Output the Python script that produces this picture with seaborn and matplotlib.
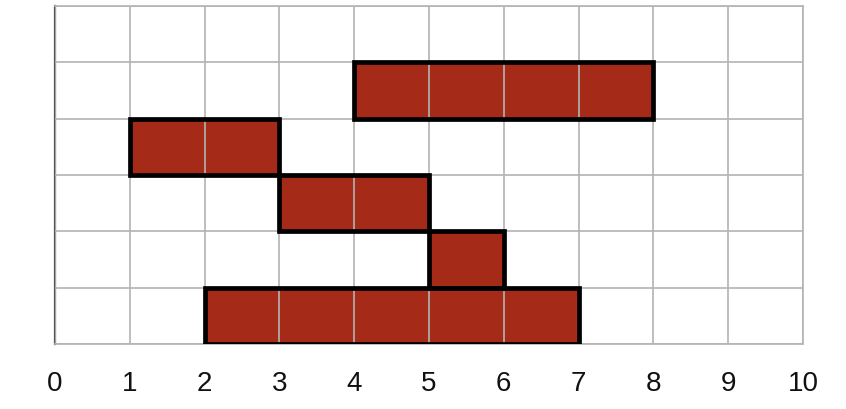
import matplotlib
matplotlib.use("Agg")
import matplotlib.pyplot as plt
import seaborn as sns
import numpy as np

rows = [4, 3, 2, 1, 0]          # row index (0 = bottom row)
starts = [4, 1, 3, 5, 2]
ends = [8, 3, 5, 6, 7]
xticks = list(range(0, 11))
n_rows = 6

sns.set_theme(style="white")
plt.rcParams['font.family'] = ['Liberation Sans', 'DejaVu Sans']

fig = plt.figure(figsize=(8.46, 4.10), dpi=100)
ax = fig.add_axes([55/846, 1-345/410, (803-55)/846, (345-7)/410])

widths = [e - s for s, e in zip(starts, ends)]
ax.barh(rows, widths, left=starts, height=1.0, align='edge',
        color='#a52a18', edgecolor='none', zorder=1)
ax.barh(rows, widths, left=starts, height=1.0, align='edge',
        facecolor='none', edgecolor='black', linewidth=3.4, zorder=3)

ax.set_xlim(0, 10)
ax.set_ylim(0, n_rows)
ax.set_xticks(xticks)
ax.set_xticklabels([str(t) for t in xticks])
ax.set_yticks(range(0, n_rows + 1))
ax.set_yticklabels([])
ax.grid(True, color='#b3b3b3', linewidth=1.2)
ax.set_axisbelow(False)
for gl in ax.get_xgridlines() + ax.get_ygridlines():
    gl.set_zorder(2)
ax.tick_params(axis='both', length=0)
ax.tick_params(axis='x', pad=19, labelsize=20, labelcolor='#111111')

for side in ['top', 'right', 'bottom']:
    ax.spines[side].set_color('#b3b3b3')
    ax.spines[side].set_linewidth(1.2)
ax.spines['left'].set_color('#555555')
ax.spines['left'].set_linewidth(1.6)
for s in ax.spines.values():
    s.set_visible(True)

fig.savefig("out.png", dpi=100)
